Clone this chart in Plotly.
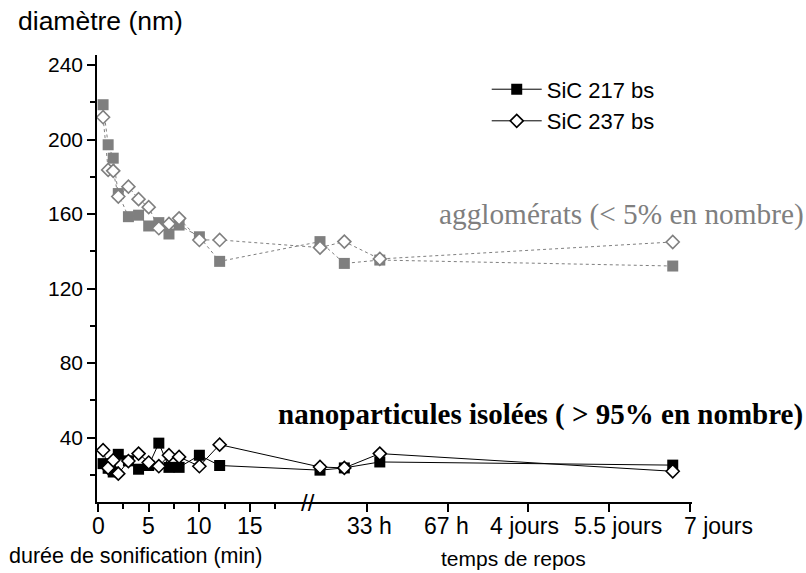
import plotly.graph_objects as go

# ---- data ----
# x positions (sonication minutes 0-15, then rest-time section after the axis break)
x_pts = [0.5, 1, 1.5, 2, 3, 4, 5, 6, 7, 8, 10, 12, 21.9, 24.3, 27.8, 56.7]

aggl_217 = [218.7, 197.2, 190, 171, 158.6, 159.4, 153.6, 155.4, 149.3, 154.1, 147.8, 134.6,
            145.2, 133.5, 135.3, 132.1]
aggl_237 = [212, 183.7, 183.2, 169.4, 174.7, 168, 163.7, 152.4, 154.7, 157.7, 146.1, 146.1,
            142, 145.2, 135.9, 145]
nano_217 = [26, 23.5, 21.5, 31, 27.5, 23, 25, 37, 24, 24, 30.5, 25,
            22.5, 23.7, 26.9, 25.2]
nano_237 = [33.2, 23.7, 27.8, 20.6, 27.4, 31.4, 26.6, 24.6, 30.5, 29.6, 24.6, 36.2,
            24.2, 23.7, 31.4, 21.9]

x_tickvals = [0, 5, 10, 15, 26.5, 34.5, 42.45, 50.4, 58.4]
x_ticktext = ["0", "5", "10", "15", "33 h", "67 h", "4 jours", "5.5 jours", "7 jours"]
x_label_pos = [0, 5, 10, 15, 26.8, 34.4, 42.1, 51.3, 61.2]
x_minor = [2.5, 7.5, 12.5, 17.5]
y_tickvals = [40, 80, 120, 160, 200, 240]

series_names = ["SiC 217 bs", "SiC 237 bs"]

X_RANGE = [-0.1, 58.6]
GRAY = "#7f7f7f"
SANS = "Liberation Sans, Arial, Helvetica, sans-serif"
SERIF = "Liberation Serif, Times New Roman, serif"

fig = go.Figure()

# agglomerates (grey, dotted)
fig.add_trace(go.Scatter(x=x_pts, y=aggl_217, mode="lines+markers", showlegend=False,
                         line=dict(color=GRAY, width=1, dash="dot"),
                         marker=dict(symbol="square", size=11, color=GRAY,
                                     line=dict(width=0))))
fig.add_trace(go.Scatter(x=x_pts, y=aggl_237, mode="lines+markers", showlegend=False,
                         line=dict(color=GRAY, width=1, dash="dot"),
                         marker=dict(symbol="diamond", size=10, color="white",
                                     line=dict(color=GRAY, width=1.6))))
# isolated nanoparticles (black, solid)
fig.add_trace(go.Scatter(x=x_pts, y=nano_217, mode="lines+markers", name=series_names[0],
                         line=dict(color="black", width=1),
                         marker=dict(symbol="square", size=11, color="black",
                                     line=dict(width=0))))
fig.add_trace(go.Scatter(x=x_pts, y=nano_237, mode="lines+markers", name=series_names[1],
                         line=dict(color="black", width=1),
                         marker=dict(symbol="diamond", size=10, color="white",
                                     line=dict(color="black", width=1.6))))

fig.update_layout(
    width=806, height=573,
    margin=dict(l=97, r=114, t=55, b=71, autoexpand=False),
    paper_bgcolor="white", plot_bgcolor="white",
    font=dict(family=SANS, color="black", size=22),
    showlegend=True,
    legend=dict(x=0.655, y=0.97, xanchor="left", yanchor="top",
                bgcolor="rgba(0,0,0,0)", font=dict(size=22, family=SANS),
                itemwidth=50, tracegroupgap=0),
    xaxis=dict(range=X_RANGE, showgrid=False, zeroline=False, automargin=False,
               showline=True, linecolor="black", linewidth=1.5,
               ticks="outside", ticklen=8, tickwidth=1.5, tickcolor="black",
               tickmode="array", tickvals=x_tickvals, showticklabels=False,
               minor=dict(tickmode="array", tickvals=x_minor, ticks="outside",
                          ticklen=5, tickwidth=1.5, tickcolor="black", showgrid=False)),
    yaxis=dict(range=[5.4, 245.4], showgrid=False, zeroline=False, automargin=False,
               showline=True, linecolor="black", linewidth=1.5,
               ticks="outside", ticklen=8, tickwidth=1.5, tickcolor="black",
               tickmode="array", tickvals=y_tickvals,
               tickfont=dict(size=21, family=SANS),
               minor=dict(tickmode="linear", tick0=0, dtick=20, ticks="outside",
                          ticklen=5, tickwidth=1.5, tickcolor="black", showgrid=False)),
)

annotations = [
    dict(text="diamètre (nm)", xref="paper", yref="paper", x=-0.136, y=1.076,
         xanchor="left", yanchor="middle", showarrow=False,
         font=dict(size=26.5, family=SANS)),
    dict(text="agglomérats (< 5% en nombre)", xref="paper", yref="y", x=0.5707, y=159.5,
         xanchor="left", yanchor="middle", showarrow=False,
         font=dict(size=29.3, family=SERIF, color=GRAY)),
    dict(text="<b>nanoparticules isolées ( > 95% en nombre)</b>", xref="paper", yref="y",
         x=0.3013, y=52.5, xanchor="left", yanchor="middle", showarrow=False,
         font=dict(size=29, family=SERIF, color="black")),
    dict(text="durée de sonification (min)", xref="paper", yref="paper", x=-0.152, y=-0.1216,
         xanchor="left", yanchor="middle", showarrow=False,
         font=dict(size=21.5, family=SANS)),
    dict(text="temps de repos", xref="paper", yref="paper", x=0.7, y=-0.126,
         xanchor="center", yanchor="middle", showarrow=False,
         font=dict(size=21, family=SANS)),
    dict(text="//", xref="x", yref="paper", x=20.7, y=0.0,
         xanchor="center", yanchor="middle", showarrow=False,
         font=dict(size=24, family=SANS)),
]
# x-axis tick labels (placed under their ticks as in the original figure)
span = X_RANGE[1] - X_RANGE[0]
for pos, lab in zip(x_label_pos, x_ticktext):
    annotations.append(dict(text=lab, xref="paper", yref="paper",
                            x=(pos - X_RANGE[0]) / span, y=0,
                            xanchor="center", yanchor="middle", yshift=-24,
                            showarrow=False, font=dict(size=23, family=SANS)))
fig.update_layout(annotations=annotations)

fig.write_html("out.html", config={"displayModeBar": False},
               post_script="document.body.style.margin='0';document.body.style.padding='0';")
